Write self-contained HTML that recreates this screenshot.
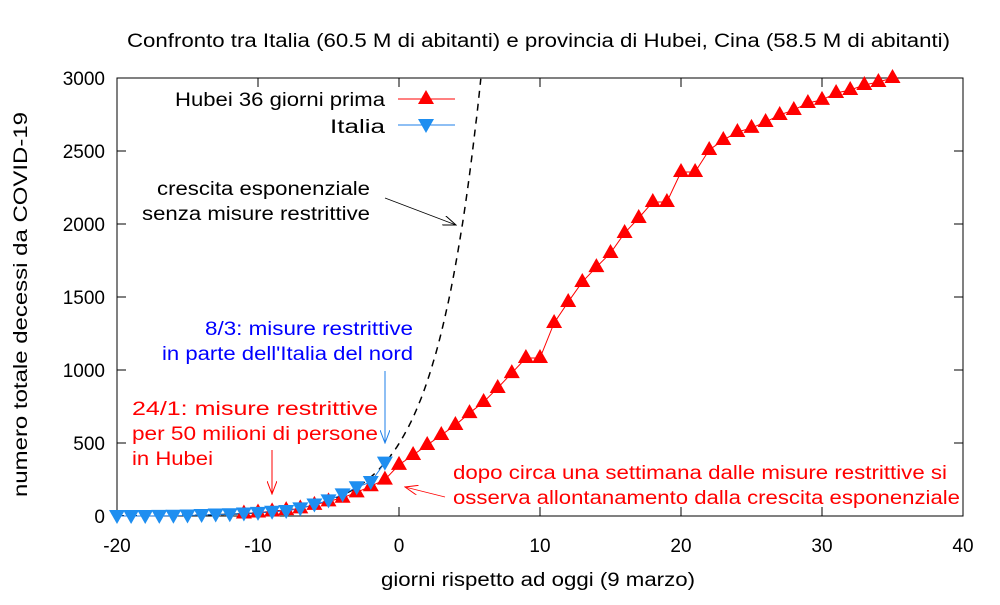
<!DOCTYPE html>
<html><head><meta charset="utf-8"><style>
body{margin:0;background:#fff;}
svg text{font-family:"Liberation Sans",Arial,sans-serif;}
</style></head><body>
<svg id="s" width="1000" height="600" viewBox="0 0 1000 600" xmlns="http://www.w3.org/2000/svg">
<defs>
<marker id="ab" markerWidth="14" markerHeight="10" refX="13" refY="5" orient="auto" markerUnits="userSpaceOnUse"><path d="M0,0 L13,5 L0,10" fill="none" stroke="#000" stroke-width="1"/></marker>
<marker id="ar" markerWidth="14" markerHeight="10" refX="13" refY="5" orient="auto" markerUnits="userSpaceOnUse"><path d="M0,0 L13,5 L0,10" fill="none" stroke="#f00" stroke-width="1"/></marker>
<marker id="abl" markerWidth="14" markerHeight="10" refX="13" refY="5" orient="auto" markerUnits="userSpaceOnUse"><path d="M0,0 L13,5 L0,10" fill="none" stroke="#1e7fe8" stroke-width="1"/></marker>
</defs>
<text x="127" y="47" font-size="19" textLength="823" lengthAdjust="spacingAndGlyphs">Confronto tra Italia (60.5 M di abitanti) e provincia di Hubei, Cina (58.5 M di abitanti)</text>
<rect x="117" y="78" width="846" height="438" fill="none" stroke="#000" stroke-width="1"/>
<g id="ticks" stroke="#000" stroke-width="1"></g>
<g id="tl" font-size="19"></g>
<text x="381" y="586" font-size="19" textLength="314" lengthAdjust="spacingAndGlyphs">giorni rispetto ad oggi (9 marzo)</text>
<text transform="translate(27,497) rotate(-90)" font-size="19" textLength="385" lengthAdjust="spacingAndGlyphs">numero totale decessi da COVID-19</text>
<path id="exp" fill="none" stroke="#000" stroke-width="1.5" stroke-dasharray="7,6"/>
<polyline id="hl" fill="none" stroke="#f00" stroke-width="1"/>
<polyline id="il" fill="none" stroke="#1e7fe8" stroke-width="1"/>
<g id="hm" fill="#f00"></g>
<g id="im" fill="#1e8ef0"></g>
<text x="175" y="106" font-size="19" textLength="210" lengthAdjust="spacingAndGlyphs">Hubei 36 giorni prima</text>
<line x1="398" y1="99" x2="455" y2="99" stroke="#f00"/>
<path d="M426,90 L434,104 L418,104Z" fill="#f00"/>
<text x="330" y="133" font-size="19" textLength="55" lengthAdjust="spacingAndGlyphs">Italia</text>
<line x1="398" y1="125" x2="455" y2="125" stroke="#1e7fe8"/>
<path d="M418,119 L434,119 L426,133Z" fill="#1e8ef0"/>
<text x="157" y="195" font-size="19" textLength="213" lengthAdjust="spacingAndGlyphs">crescita esponenziale</text>
<text x="142" y="220" font-size="19" textLength="228" lengthAdjust="spacingAndGlyphs">senza misure restrittive</text>
<line x1="385" y1="198" x2="456" y2="225" stroke="#000" stroke-width="0.8" marker-end="url(#ab)"/>
<text x="205" y="335" font-size="19" fill="#00f" textLength="208" lengthAdjust="spacingAndGlyphs">8/3: misure restrittive</text>
<text x="162" y="360" font-size="19" fill="#00f" textLength="251" lengthAdjust="spacingAndGlyphs">in parte dell'Italia del nord</text>
<line x1="385" y1="371" x2="385" y2="443" stroke="#1e7fe8" marker-end="url(#abl)"/>
<text x="132" y="415" font-size="19" fill="#f00" textLength="246" lengthAdjust="spacingAndGlyphs">24/1: misure restrittive</text>
<text x="132" y="440" font-size="19" fill="#f00" textLength="246" lengthAdjust="spacingAndGlyphs">per 50 milioni di persone</text>
<text x="132" y="465" font-size="19" fill="#f00" textLength="81" lengthAdjust="spacingAndGlyphs">in Hubei</text>
<line x1="272" y1="450" x2="272" y2="494" stroke="#f00" marker-end="url(#ar)"/>
<text x="453" y="479" font-size="19" fill="#f00" textLength="494" lengthAdjust="spacingAndGlyphs">dopo circa una settimana dalle misure restrittive si</text>
<text x="453" y="504" font-size="19" fill="#f00" textLength="507" lengthAdjust="spacingAndGlyphs">osserva allontanamento dalla crescita esponenziale</text>
<line x1="445" y1="497" x2="405" y2="487" stroke="#f00" stroke-width="0.8" marker-end="url(#ar)"/>
</svg>
<script>
const X=d=>117+(d+20)*846/60, Y=v=>516-v*438/3000;
const ns="http://www.w3.org/2000/svg";
function el(p,t,a,txt){const e=document.createElementNS(ns,t);for(const k in a)e.setAttribute(k,a[k]);if(txt!=null)e.textContent=txt;document.getElementById(p).appendChild(e);}
for(let d=-20;d<=40;d+=10){el("ticks","line",{x1:X(d),y1:516,x2:X(d),y2:507});el("ticks","line",{x1:X(d),y1:78,x2:X(d),y2:87});el("tl","text",{x:X(d),y:552,"text-anchor":"middle"},d);}
for(let v=0;v<=3000;v+=500){el("ticks","line",{x1:117,y1:Y(v),x2:126,y2:Y(v)});el("ticks","line",{x1:963,y1:Y(v),x2:954,y2:Y(v)});el("tl","text",{x:105,y:Y(v)+7,"text-anchor":"end"},v);}
const hb=[17,24,32,40,52,76,100,125,162,204,249,350,418,486,555,623,705,781,877,979,1082,1082,1322,1466,1603,1705,1801,1938,2041,2151,2151,2356,2356,2507,2575,2630,2658,2699,2747,2781,2829,2850,2897,2918,2952,2973,3000];
let hp=[];hb.forEach((v,i)=>{const d=i-11,x=X(d),y=Y(v);hp.push(x+","+y);el("hm","path",{d:`M${x},${y-9} L${x+8},${y+5} L${x-8},${y+5}Z`});});
document.getElementById("hl").setAttribute("points",hp.join(" "));
const it=[0,0,0,1,2,3,7,10,12,17,21,29,34,52,79,107,148,197,233,366];
let ip=[];it.forEach((v,i)=>{const d=i-20,x=X(d),y=Y(v);ip.push(x+","+y);el("im","path",{d:`M${x-8},${y-6} L${x+8},${y-6} L${x},${y+8}Z`});});
document.getElementById("il").setAttribute("points",ip.join(" "));
let p="";for(let d=-20;d<=5.85;d+=0.05){const v=496*Math.exp(0.31*d);p+=(p?"L":"M")+X(d).toFixed(1)+","+Y(v).toFixed(1);}
document.getElementById("exp").setAttribute("d",p);
</script>
</body></html>
